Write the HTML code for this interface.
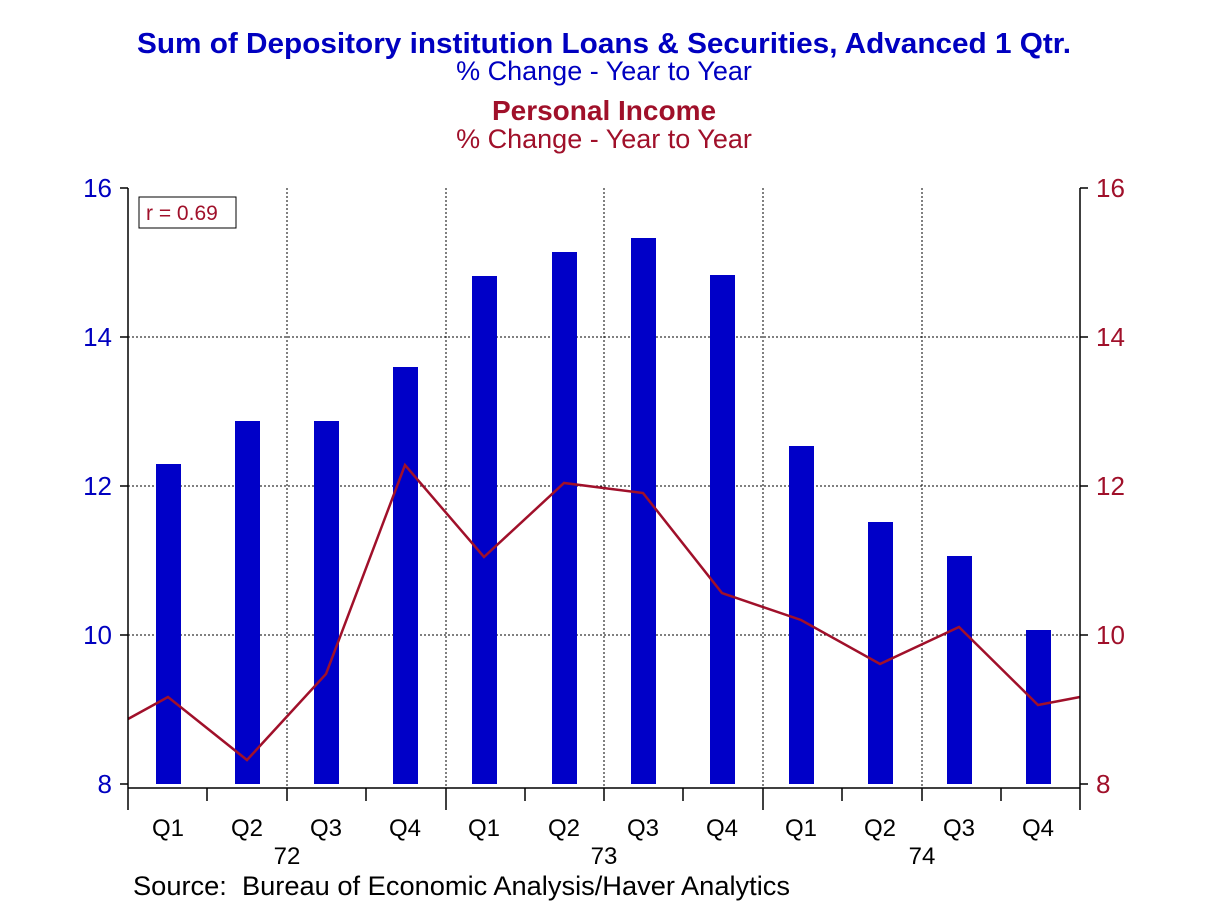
<!DOCTYPE html>
<html><head><style>body{margin:0;background:#fff}</style></head><body>
<svg width="1208" height="906" xmlns="http://www.w3.org/2000/svg" font-family="Liberation Sans, sans-serif">
<rect width="1208" height="906" fill="#fff"/>
<text x="604" y="53" text-anchor="middle" font-size="29" font-weight="bold" fill="#0000c0" textLength="934" lengthAdjust="spacingAndGlyphs">Sum of Depository institution Loans &amp; Securities, Advanced 1 Qtr.</text>
<text x="604" y="80" text-anchor="middle" font-size="27" fill="#0000c0">% Change - Year to Year</text>
<text x="604" y="120" text-anchor="middle" font-size="28" font-weight="bold" fill="#a0102a">Personal Income</text>
<text x="604" y="148" text-anchor="middle" font-size="27" fill="#a0102a">% Change - Year to Year</text>
<g stroke="#000" stroke-width="1" stroke-dasharray="2,2">
<line x1="128" x2="1080" y1="337" y2="337"/><line x1="128" x2="1080" y1="486" y2="486"/><line x1="128" x2="1080" y1="635" y2="635"/>
<line x1="287" x2="287" y1="188" y2="788"/><line x1="446" x2="446" y1="188" y2="788"/><line x1="604" x2="604" y1="188" y2="788"/><line x1="763" x2="763" y1="188" y2="788"/><line x1="922" x2="922" y1="188" y2="788"/>
</g>
<g fill="#0000c8">
<rect x="156" y="464" width="25" height="320"/>
<rect x="235" y="421" width="25" height="363"/>
<rect x="314" y="421" width="25" height="363"/>
<rect x="393" y="367" width="25" height="417"/>
<rect x="472" y="276" width="25" height="508"/>
<rect x="552" y="252" width="25" height="532"/>
<rect x="631" y="238" width="25" height="546"/>
<rect x="710" y="275" width="25" height="509"/>
<rect x="789" y="446" width="25" height="338"/>
<rect x="868" y="522" width="25" height="262"/>
<rect x="947" y="556" width="25" height="228"/>
<rect x="1026" y="630" width="25" height="154"/>
</g>
<polyline fill="none" stroke="#a0102a" stroke-width="2.5" points="128,719 168,697 247,760 326,674 405,465 484,557 564,483 643,493 722,593 801,620 880,664 959,627 1038,705 1080,697"/>
<g stroke="#000" stroke-width="1.5">
<line x1="128" y1="188" x2="128" y2="810"/><line x1="1080" y1="188" x2="1080" y2="810"/>
<line x1="128" y1="788" x2="1080" y2="788"/>
<line x1="120" y1="188" x2="128" y2="188"/><line x1="120" y1="337" x2="128" y2="337"/><line x1="120" y1="486" x2="128" y2="486"/><line x1="120" y1="635" x2="128" y2="635"/><line x1="120" y1="784" x2="128" y2="784"/>
<line x1="1080" y1="188" x2="1088" y2="188"/><line x1="1080" y1="337" x2="1088" y2="337"/><line x1="1080" y1="486" x2="1088" y2="486"/><line x1="1080" y1="635" x2="1088" y2="635"/><line x1="1080" y1="784" x2="1088" y2="784"/>
<line x1="207" y1="788" x2="207" y2="801"/><line x1="287" y1="788" x2="287" y2="801"/><line x1="366" y1="788" x2="366" y2="801"/><line x1="446" y1="788" x2="446" y2="810"/><line x1="525" y1="788" x2="525" y2="801"/><line x1="604" y1="788" x2="604" y2="801"/><line x1="683" y1="788" x2="683" y2="801"/><line x1="763" y1="788" x2="763" y2="810"/><line x1="842" y1="788" x2="842" y2="801"/><line x1="922" y1="788" x2="922" y2="801"/><line x1="1001" y1="788" x2="1001" y2="801"/>
</g>
<g font-size="26" fill="#0000c0" text-anchor="end">
<text x="112" y="197">16</text><text x="112" y="346">14</text><text x="112" y="495">12</text><text x="112" y="644">10</text><text x="112" y="793">8</text>
</g>
<g font-size="26" fill="#a0102a">
<text x="1096" y="197">16</text><text x="1096" y="346">14</text><text x="1096" y="495">12</text><text x="1096" y="644">10</text><text x="1096" y="793">8</text>
</g>
<rect x="139" y="197" width="97" height="31" fill="#fff" stroke="#000" stroke-width="1"/>
<text x="146" y="220" font-size="21" fill="#a0102a">r = 0.69</text>
<g font-size="24" fill="#000" text-anchor="middle">
<text x="168" y="836">Q1</text><text x="247" y="836">Q2</text><text x="326" y="836">Q3</text><text x="405" y="836">Q4</text>
<text x="484" y="836">Q1</text><text x="564" y="836">Q2</text><text x="643" y="836">Q3</text><text x="722" y="836">Q4</text>
<text x="801" y="836">Q1</text><text x="880" y="836">Q2</text><text x="959" y="836">Q3</text><text x="1038" y="836">Q4</text>
<text x="287" y="864">72</text><text x="604" y="864">73</text><text x="922" y="864">74</text>
</g>
<text x="133" y="895" font-size="27" fill="#000" xml:space="preserve" textLength="657" lengthAdjust="spacingAndGlyphs">Source:  Bureau of Economic Analysis/Haver Analytics</text>
</svg>
</body></html>
